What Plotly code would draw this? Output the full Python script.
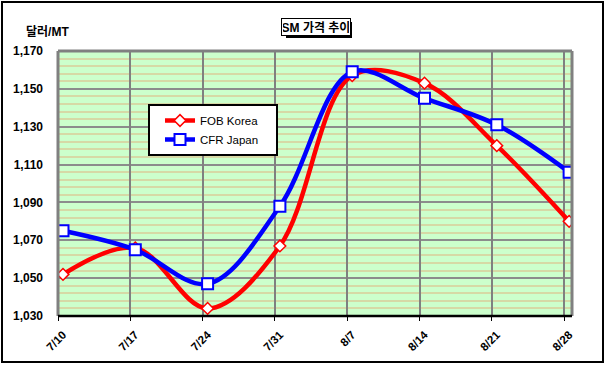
import plotly.graph_objects as go

categories = ["7/10", "7/17", "7/24", "7/31", "8/7", "8/14", "8/21", "8/28"]
fob_korea = [1052, 1066, 1034, 1067, 1157, 1153, 1120, 1080]
cfr_japan = [1075, 1065, 1047, 1088, 1159, 1145, 1131, 1106]
y_ticks = [1030, 1050, 1070, 1090, 1110, 1130, 1150, 1170]
series_names = ["FOB Korea", "CFR Japan"]

W, H = 606, 365
L, R, T, B = 58, 34, 51, 49
pw, ph = W - L - R, H - T - B
FONT = "Liberation Sans, Arial, Noto Sans CJK KR"

xs = list(range(len(categories)))
off = 0.069
pad = "\u00a0" * 4

fig = go.Figure()
fig.add_trace(go.Scatter(
    x=xs, y=fob_korea, name=series_names[0] + pad, mode="lines+markers",
    line=dict(color="#ff0000", width=4.5, shape="spline", smoothing=1),
    marker=dict(symbol="diamond", size=9, color="white", line=dict(color="#ff0000", width=1.5)),
))
fig.add_trace(go.Scatter(
    x=xs, y=cfr_japan, name=series_names[1] + pad, mode="lines+markers",
    line=dict(color="#0000ff", width=4.5, shape="spline", smoothing=1),
    marker=dict(symbol="square", size=11, color="white", line=dict(color="#0000ff", width=2)),
))

fig.add_trace(go.Scatter(x=[xs[0]], y=[y_ticks[0]], xaxis="x2", mode="markers",
                         marker=dict(opacity=0), showlegend=False, hoverinfo="skip"))

xr = [-off, len(categories) - 1 + 0.04]
fig.update_layout(
    width=W, height=H,
    margin=dict(l=L, r=R, t=T, b=B, autoexpand=False),
    paper_bgcolor="white",
    plot_bgcolor="#ccffcc",
    font=dict(family=FONT, size=11, color="black"),
    xaxis=dict(range=xr, tickvals=xs, ticktext=categories, tickangle=-45,
               showgrid=False, zeroline=False, showline=False, ticks="",
               ticklabelstandoff=9, automargin=False,
               tickfont=dict(family=FONT, size=11.5, color="black", weight="bold")),
    xaxis2=dict(range=xr, overlaying="x", side="bottom",
                tickvals=[i - off for i in xs], showticklabels=False,
                showgrid=True, gridcolor="#808080", gridwidth=1.5,
                ticks="outside", ticklen=4, tickcolor="black", zeroline=False),
    yaxis=dict(range=[1030, 1170], tickvals=y_ticks, tickformat=",",
               showgrid=True, gridcolor="#8c8c8c", gridwidth=1.5,
               zeroline=False, ticks="", ticklen=0, automargin=False,
               ticklabelstandoff=14,
               tickfont=dict(family=FONT, size=12, color="black", weight="bold"),
               minor=dict(dtick=4, tick0=1030, showgrid=True, gridcolor="#d6d9a6", gridwidth=1.5)),
    legend=dict(x=(148 - L) / pw, y=(H - B - 104) / ph, xanchor="left", yanchor="top",
                bgcolor="white", bordercolor="black", borderwidth=2,
                font=dict(family=FONT, size=11.5, color="black"),
                tracegroupgap=0, itemwidth=30, indentation=10),
    showlegend=True,
)

def px_x(p):
    return (p - L) / pw

def px_y(p):
    return (H - B - p) / ph

shapes = [
    dict(type="line", xref="paper", yref="paper", x0=0, x1=1, y0=1, y1=1, line=dict(color="#808080", width=3)),
    dict(type="line", xref="paper", yref="paper", x0=0, x1=0, y0=0, y1=1, line=dict(color="#808080", width=3)),
    dict(type="line", xref="paper", yref="paper", x0=1, x1=1, y0=0, y1=1, line=dict(color="#808080", width=3)),
    dict(type="line", xref="paper", yref="paper", x0=0, x1=1, y0=0, y1=0, line=dict(color="black", width=2.5)),
    dict(type="rect", xref="paper", yref="paper", x0=px_x(2), x1=px_x(603), y0=px_y(2), y1=px_y(362),
         line=dict(color="black", width=2), layer="below"),
    dict(type="rect", xref="paper", yref="paper", x0=px_x(286), x1=px_x(352), y0=px_y(22), y1=px_y(38),
         line=dict(color="black", width=0), fillcolor="black"),
]
fig.update_layout(shapes=shapes)

fig.add_annotation(text="SM 가격 추이", xref="paper", yref="paper", x=px_x(316), y=px_y(27),
                   showarrow=False, font=dict(family=FONT, size=12, color="black", weight="bold"),
                   bgcolor="white", bordercolor="black", borderwidth=1, borderpad=1,
                   width=66, height=14, xanchor="center", yanchor="middle")
fig.add_annotation(text="달러/MT", xref="paper", yref="paper", x=px_x(24), y=px_y(32),
                   showarrow=False, font=dict(family=FONT, size=12, color="black", weight="bold"),
                   xanchor="left", yanchor="middle")

fig.write_html("out.html", config=dict(displayModeBar=False),
               post_script="document.body.style.margin='0';document.body.style.overflow='hidden';")
